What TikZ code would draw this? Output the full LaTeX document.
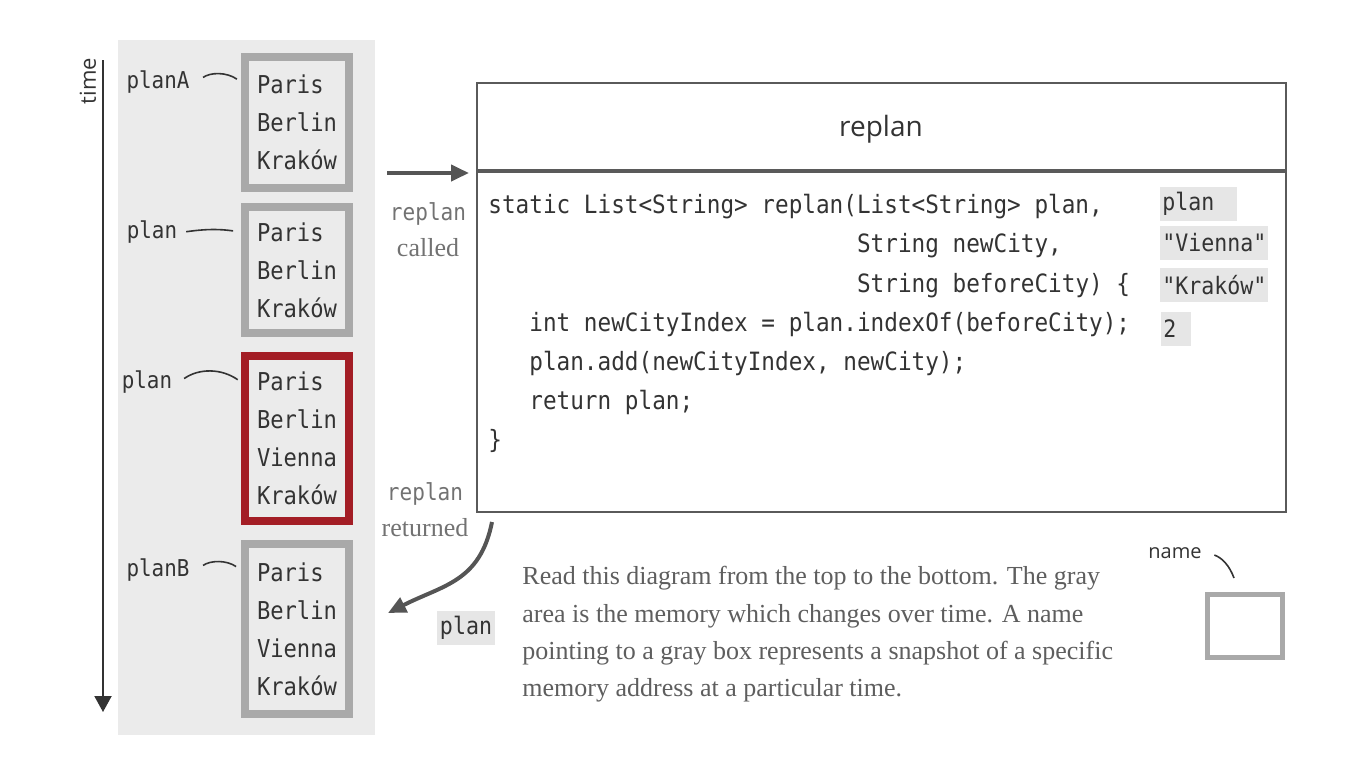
\documentclass[tikz,border=0pt]{standalone}
\usepackage{fontspec}
\setmainfont{Liberation Serif}
\newfontfamily\codefont[FakeStretch=0.9]{DejaVu Sans Mono}
\newfontfamily\handfont{Open Sans}
\usetikzlibrary{arrows.meta,positioning}
\definecolor{memgray}{HTML}{EBEBEB}
\definecolor{cellgray}{HTML}{A9A9A9}
\definecolor{hotred}{HTML}{A31D25}
\definecolor{ink}{HTML}{333333}
\definecolor{flowgray}{HTML}{555555}
\definecolor{boxline}{HTML}{5A5A5A}
\definecolor{notegray}{HTML}{5E5E5E}
\definecolor{valgray}{HTML}{E6E6E6}
\definecolor{sidegray}{HTML}{727272}
\begin{document}
\begin{tikzpicture}[
  x=0.5pt, y=-0.5pt,
  cell/.style = {draw=cellgray, line width=3.8pt, fill=memgray, minimum width=52.2pt,
                 align=left, text=ink, font=\codefont\fontsize{12.3}{19}\selectfont},
  cellhot/.style = {cell, draw=hotred},
  pname/.style = {text=ink, font=\codefont\fontsize{11.6}{14}\selectfont},
  ptr/.style = {draw=ink, line width=0.8pt},
  flow/.style = {draw=flowgray, line width=2pt, -{Triangle[length=9pt,width=8pt]}},
  frame/.style = {draw=boxline, line width=1pt, minimum width=404.5pt},
  valbox/.style = {fill=valgray, anchor=west, inner xsep=1pt, inner ysep=0pt,
                   minimum height=17pt, align=left, text=ink,
                   font=\codefont\fontsize{12}{14}\selectfont},
  sidenote/.style = {align=center, text=sidegray, font=\fontsize{13}{18}\selectfont},
  note/.style = {align=left, text=notegray, inner sep=0pt,
                 font=\fontsize{13}{18.7}\selectfont}
]
  \useasboundingbox (0,0) rectangle (1353,767);
  % memory area and time axis
  \fill[memgray] (118,40) rectangle (375,735);
  \draw[ink, line width=1pt, -{Triangle[length=8pt,width=8.5pt]}] (103,60) -- (103,712);
  \node[text=ink, rotate=90, font=\handfont\fontsize{11}{13}\selectfont] (timelbl) at (88,81) {time};
  % snapshots
  \node[cell, minimum height=65.7pt] (boxA) at (297,122.5) {Paris\\Berlin\\Kraków};
  \node[cell, minimum height=63.2pt] (boxP) at (297,270) {Paris\\Berlin\\Kraków};
  \node[cellhot, minimum height=82.7pt] (boxR) at (297,438.5) {Paris\\Berlin\\Vienna\\Kraków};
  \node[cell, minimum height=85.2pt] (boxB) at (297,629) {Paris\\Berlin\\Vienna\\Kraków};
  % names
  \node[pname] (nA) at (158,82) {planA};
  \node[pname] (nP) at (152,232) {plan};
  \node[pname] (nR) at (147,382) {plan};
  \node[pname] (nB) at (158,570) {planB};
  \draw[ptr, shorten <=4pt, shorten >=2.5pt] (nA.east) to[bend left=35] (nA.east -| boxA.west);
  \draw[ptr, shorten <=1pt, shorten >=4pt] (nP.east) to[bend left=8] (nP.east -| boxP.west);
  \draw[ptr, shorten <=3pt, shorten >=2pt] (nR.east) to[bend left=35] (nR.east -| boxR.west);
  \draw[ptr, shorten <=4pt, shorten >=3pt] (nB.east) to[bend left=35] (nB.east -| boxB.west);
  % method frame
  \node[frame, minimum height=43.5pt] (head) at (881.5,126.5) {};
  \node[text=ink, font=\handfont\fontsize{14}{16}\selectfont] (title) at (881,129) {replan};
  \node[frame, minimum height=170pt, anchor=north] (body) at (head.south) {};
  \node[anchor=north west, inner sep=0pt, align=left, text=ink,
        font=\codefont\fontsize{12.6}{19.6}\selectfont] (code) at (488,194) {%
static List<String> replan(List<String> plan,\\
\phantom{static List<String> replan(}String newCity,\\
\phantom{static List<String> replan(}String beforeCity) \{\\
\phantom{sta}int newCityIndex = plan.indexOf(beforeCity);\\
\phantom{sta}plan.add(newCityIndex, newCity);\\
\phantom{sta}return plan;\\
\}};
  % argument values
  \node[valbox, text width=36.5pt] (vPlan) at (1160,203.5) {plan};
  \node[valbox] (vNew) at (1160,243) {"Vienna"};
  \node[valbox] (vBefore) at (1160,285) {"Kraków"};
  \node[valbox, text width=13pt] (vIndex) at (1161,328.5) {2};
  % call and return
  \node[sidenote] (calledlbl) at (428,230) {{\codefont\fontsize{11.7}{18}\selectfont replan}\\called};
  \node[sidenote] (retlbl) at (425,510) {{\codefont\fontsize{11.7}{18}\selectfont replan}\\returned};
  \coordinate (callin) at (387,173);
  \draw[flow, shorten >=3.5pt] (callin) -- (callin -| body.west);
  \coordinate (retfrom) at (492,522);
  \coordinate (retto) at (388,613);
  \draw[flow] (retfrom) .. controls +(-12,60) and +(55,-28) .. (retto);
  \node[valbox, anchor=center, minimum width=29pt] (retval) at (466,627.5) {plan};
  % explanation
  \node[note, anchor=north west] (expl) at (522,566) {%
Read this diagram from the top to the bottom. The gray\\
area is the memory which changes over time. A name\\
pointing to a gray box represents a snapshot of a specific\\
memory address at a particular time.};
  \node[text=ink, font=\handfont\fontsize{10}{12}\selectfont] (legname) at (1175,553) {name};
  \node[draw=cellgray, line width=2.5pt, minimum width=37.5pt, minimum height=31.5pt] (legbox) at (1245,626) {};
  \draw[ptr, shorten <=3pt] (legname.east) to[bend left=25] ([xshift=-5.5pt,yshift=7pt]legbox.north);
\end{tikzpicture}
\end{document}
